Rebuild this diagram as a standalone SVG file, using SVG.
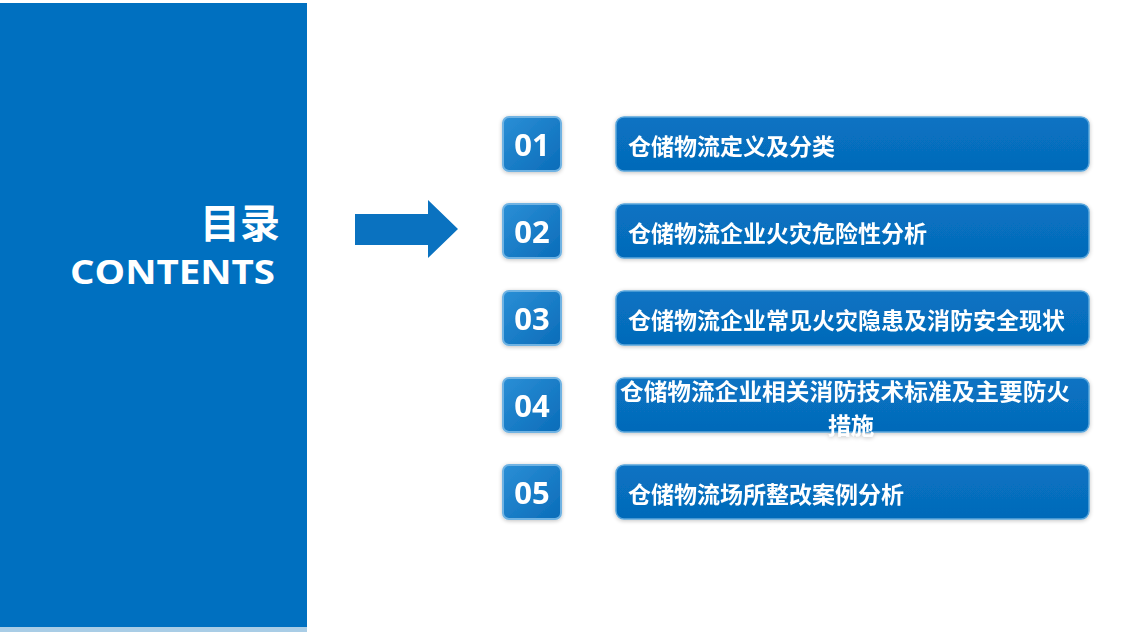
<svg xmlns="http://www.w3.org/2000/svg" width="1122" height="632" viewBox="0 0 1122 632">
<defs>
<style>
.bar{fill:url(#barg);stroke:#5aa6dc;stroke-width:1.5}
.num{fill:url(#numg);stroke:#6fb3e3;stroke-width:2}
.nt{font-family:"Open Sans","Noto Sans",sans-serif;font-weight:700;font-size:31px;fill:#fff;text-anchor:middle}
.bt{font-family:"Noto Sans CJK SC","Noto Sans",sans-serif;font-weight:700;font-size:23px;fill:#fff}
</style>
<linearGradient id="barg" x1="0" y1="0" x2="0" y2="1">
<stop offset="0" stop-color="#0873c3"/>
<stop offset="1" stop-color="#056ab9"/>
</linearGradient>
<linearGradient id="numg" x1="0" y1="0" x2="1" y2="1">
<stop offset="0" stop-color="#2b8fd6"/>
<stop offset="1" stop-color="#0a6cb9"/>
</linearGradient>
<filter id="sh" x="-5%" y="-20%" width="110%" height="140%">
<feGaussianBlur in="SourceAlpha" stdDeviation="2"/>
<feOffset dy="1"/>
<feComponentTransfer><feFuncA type="linear" slope="0.25"/></feComponentTransfer>
<feMerge><feMergeNode/><feMergeNode in="SourceGraphic"/></feMerge>
</filter>
</defs>
<rect width="1122" height="632" fill="#ffffff"/>
<g id="panel">
<rect x="0" y="3" width="307" height="625" fill="#0070c0"/>
<rect x="0" y="627" width="307" height="5" fill="#a9cde6"/>
<text x="280" y="238" font-family="Noto Sans CJK SC,sans-serif" font-weight="700" font-size="40" fill="#fff" text-anchor="end">目录</text>
<text x="275" y="284" font-family="Open Sans,Noto Sans,sans-serif" font-weight="700" font-size="34" fill="#fff" text-anchor="end" textLength="205" lengthAdjust="spacingAndGlyphs">CONTENTS</text>
</g>
<g id="connectors">
<polygon points="355,214 428,214 428,200 458,229 428,258 428,245 355,245" fill="#0a72c0"/>
</g>
<g id="item1" filter="url(#sh)">
<rect class="num" x="503" y="117" width="58" height="54" rx="6"/>
<text class="nt" x="532" y="156">01</text>
<rect class="bar" x="616" y="117" width="473" height="54" rx="8"/>
<text class="bt" x="628" y="155">仓储物流定义及分类</text>
</g>
<g id="item2" filter="url(#sh)">
<rect class="num" x="503" y="204" width="58" height="54" rx="6"/>
<text class="nt" x="532" y="243">02</text>
<rect class="bar" x="616" y="204" width="473" height="54" rx="8"/>
<text class="bt" x="628" y="242">仓储物流企业火灾危险性分析</text>
</g>
<g id="item3" filter="url(#sh)">
<rect class="num" x="503" y="291" width="58" height="54" rx="6"/>
<text class="nt" x="532" y="330">03</text>
<rect class="bar" x="616" y="291" width="473" height="54" rx="8"/>
<text class="bt" x="628" y="329">仓储物流企业常见火灾隐患及消防安全现状</text>
</g>
<g id="item4" filter="url(#sh)">
<rect class="num" x="503" y="378" width="58" height="54" rx="6"/>
<text class="nt" x="532" y="417">04</text>
<rect class="bar" x="616" y="378" width="473" height="54" rx="8"/>
<text class="bt" x="845" y="400" text-anchor="middle" textLength="450" lengthAdjust="spacingAndGlyphs">仓储物流企业相关消防技术标准及主要防火</text>
<text class="bt" x="851" y="434" text-anchor="middle">措施</text>
</g>
<g id="item5" filter="url(#sh)">
<rect class="num" x="503" y="465" width="58" height="54" rx="6"/>
<text class="nt" x="532" y="504">05</text>
<rect class="bar" x="616" y="465" width="473" height="54" rx="8"/>
<text class="bt" x="628" y="503">仓储物流场所整改案例分析</text>
</g>
</svg>
